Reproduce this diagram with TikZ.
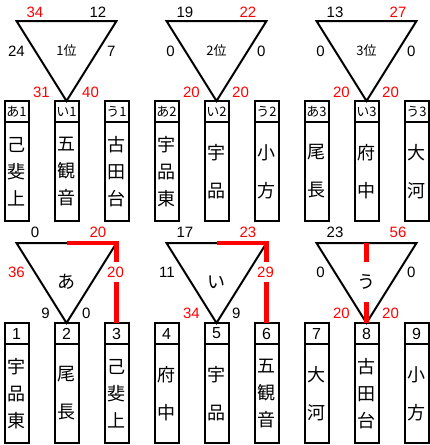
\documentclass[tikz,border=0pt]{standalone}
\usepackage{fontspec}
\setmainfont{Liberation Sans}
\newfontfamily\jpfont{Noto Sans CJK JP}
\usepackage{tikz}
\usetikzlibrary{positioning}
\definecolor{winred}{HTML}{FF0000}
\definecolor{lineblack}{HTML}{000000}

\begin{document}
\begin{tikzpicture}[x=1pt,y=-1pt,
  hdr/.style={draw=lineblack,line width=2pt,outer sep=0pt,inner sep=0pt,
              minimum width=24pt,minimum height=21pt,anchor=north,
              font=\jpfont\fontsize{13}{13}\selectfont},
  numhdr/.style={hdr,font=\fontsize{16}{16}\selectfont},
  body/.style={draw=lineblack,line width=2pt,outer sep=0pt,inner sep=0pt,
              minimum width=24pt,minimum height=99pt,align=center,
              font=\jpfont\fontsize{18}{27}\selectfont},
  tri/.style={draw=lineblack,line width=2pt,line join=miter},
  win/.style={winred,line width=4.5pt,line join=miter},
  num/.style={inner sep=0pt,font=\fontsize{15}{15}\selectfont},
  rnum/.style={num,text=winred},
  cutnum/.style={rnum,fill=white,inner ysep=4.5pt},
  rank/.style={inner sep=0pt,font=\jpfont\fontsize{13}{13}\selectfont},
  grp/.style={inner sep=0pt,font=\jpfont\fontsize{18}{18}\selectfont}]
  \useasboundingbox (0,0) rectangle (429,445);
  \foreach \g/\ox/\oy in {1/0/0,2/150/0,3/300/0,a/0/222,i/150/222,u/300/222}{
    \coordinate (t\g-l) at (\ox+16.5,\oy+21);
    \coordinate (t\g-r) at (\ox+116.5,\oy+21);
    \coordinate (t\g-m) at (\ox+66.5,\oy+21);
    \coordinate (t\g-b) at (\ox+66.5,\oy+101);
    \draw[tri] (t\g-l) -- (t\g-r) -- (t\g-b) -- cycle;
  }
  \foreach \nm/\x/\hd/\nmtext in {
      a1/16.5/あ1/己\\斐\\上, i1/66.5/い1/五\\観\\音, u1/116.5/う1/古\\田\\台,
      a2/166.5/あ2/宇\\品\\東, i2/216.5/い2/宇\\[11pt]品, u2/266.5/う2/小\\[11pt]方,
      a3/316.5/あ3/尾\\[11pt]長, i3/366.5/い3/府\\[11pt]中, u3/416.5/う3/大\\[11pt]河}{
    \node[hdr] (h\nm) at (\x,101) {\hd};
    \node[body,below=0pt of h\nm] (b\nm) {\nmtext};
  }
  \foreach \nm/\x/\nmtext in {
      1/16.5/宇\\品\\東, 2/66.5/尾\\[11pt]長, 3/116.5/己\\斐\\上,
      4/166.5/府\\[11pt]中, 5/216.5/宇\\[11pt]品, 6/266.5/五\\観\\音,
      7/316.5/大\\[11pt]河, 8/366.5/古\\田\\台, 9/416.5/小\\[11pt]方}{
    \node[numhdr] (h\nm) at (\x,323) {\nm};
    \node[body,below=0pt of h\nm] (b\nm) {\nmtext};
  }
  \draw[win] (ta-m) -- (ta-r) -- (h3.north);
  \draw[win] (ti-m) -- (ti-r) -- (h6.north);
  \draw[win] (tu-m) -- (tu-b);
  \node[rnum] (l1tl) at (35,12) {34};
  \node[num] (l1tr) at (98,12) {12};
  \node[num,anchor=east] (l1l) at (25,51) {24};
  \node[num,anchor=west] (l1r) at (107,51) {7};
  \node[rnum,anchor=east] (l1bl) at (50,92) {31};
  \node[rnum,anchor=west] (l1br) at (82,92) {40};
  \node[rank] (c1) at (66.5,51) {1位};
  \node[num] (l2tl) at (185,12) {19};
  \node[rnum] (l2tr) at (248,12) {22};
  \node[num,anchor=east] (l2l) at (175,51) {0};
  \node[num,anchor=west] (l2r) at (257,51) {0};
  \node[rnum,anchor=east] (l2bl) at (200,92) {20};
  \node[rnum,anchor=west] (l2br) at (232,92) {20};
  \node[rank] (c2) at (216.5,51) {2位};
  \node[num] (l3tl) at (335,12) {13};
  \node[rnum] (l3tr) at (398,12) {27};
  \node[num,anchor=east] (l3l) at (325,51) {0};
  \node[num,anchor=west] (l3r) at (407,51) {0};
  \node[rnum,anchor=east] (l3bl) at (350,92) {20};
  \node[rnum,anchor=west] (l3br) at (382,92) {20};
  \node[rank] (c3) at (366.5,51) {3位};
  \node[num] (latl) at (35,232) {0};
  \node[rnum] (latr) at (98,232) {20};
  \node[rnum,anchor=east] (lal) at (25,272) {36};
  \node[cutnum,anchor=west] (lar) at (107,272) {20};
  \node[num,anchor=east] (labl) at (50,313) {9};
  \node[num,anchor=west] (labr) at (82,313) {0};
  \node[grp] (ca) at (66.5,282) {あ};
  \node[num] (litl) at (185,232) {17};
  \node[rnum] (litr) at (248,232) {23};
  \node[num,anchor=east] (lil) at (175,272) {11};
  \node[cutnum,anchor=west] (lir) at (257,272) {29};
  \node[rnum,anchor=east] (libl) at (200,313) {34};
  \node[num,anchor=west] (libr) at (232,313) {9};
  \node[grp] (ci) at (216.5,282) {い};
  \node[num] (lutl) at (335,232) {23};
  \node[rnum] (lutr) at (398,232) {56};
  \node[num,anchor=east] (lul) at (325,272) {0};
  \node[num,anchor=west] (lur) at (407,272) {0};
  \node[rnum,anchor=east] (lubl) at (350,313) {20};
  \node[rnum,anchor=west] (lubr) at (382,313) {20};
  \node[grp,fill=white,minimum height=40pt] (cu) at (366.5,282) {う};
\end{tikzpicture}
\end{document}
